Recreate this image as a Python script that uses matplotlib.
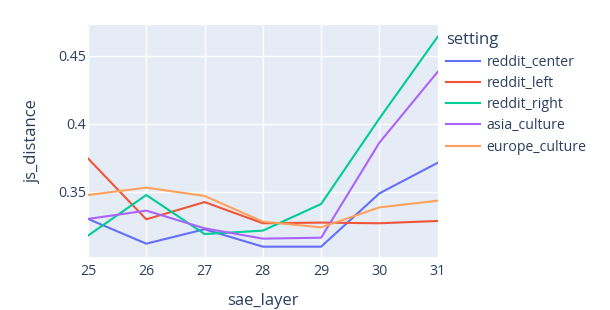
import matplotlib.pyplot as plt

layers = [25, 26, 27, 28, 29, 30, 31]
reddit_center = [0.330, 0.3118, 0.3224, 0.3096, 0.3096, 0.3488, 0.3713]
reddit_left = [0.3745, 0.3297, 0.3424, 0.3268, 0.3273, 0.3268, 0.3285]
reddit_right = [0.3177, 0.3476, 0.3189, 0.3214, 0.3410, 0.4039, 0.4640]
asia_culture = [0.330, 0.3361, 0.3231, 0.3155, 0.3162, 0.3861, 0.4382]
europe_culture = [0.3476, 0.3530, 0.3469, 0.3280, 0.3238, 0.3385, 0.3434]

series = [
    ("reddit_center", reddit_center, "#636efa"),
    ("reddit_left", reddit_left, "#EF553B"),
    ("reddit_right", reddit_right, "#00cc96"),
    ("asia_culture", asia_culture, "#ab63fa"),
    ("europe_culture", europe_culture, "#FFA15A"),
]

txt = "#2a3f5f"
plt.rcParams['font.family'] = ['Open Sans', 'DejaVu Sans']

fig = plt.figure(figsize=(6.1, 3.1), dpi=100)
ax = fig.add_axes([88 / 610, 1 - 257 / 310, (437.7 - 88) / 610, (257 - 25) / 310])
ax.set_facecolor("#E5ECF6")

for name, vals, col in series:
    ax.plot(layers, vals, color=col, lw=1.5, label=name, solid_joinstyle='round')

ax.set_xlim(25, 31)
ax.set_ylim(0.302, 0.4726)
ax.set_xticks(layers)
ax.set_yticks([0.35, 0.4, 0.45])
ax.set_yticklabels(["0.35", "0.4", "0.45"])
ax.grid(True, color="white", lw=1)
ax.set_axisbelow(True)
for s in ax.spines.values():
    s.set_visible(False)
ax.tick_params(length=0, labelsize=10.2, colors=txt)
ax.tick_params(axis="y", pad=1.5)
ax.tick_params(axis="x", pad=5)
ax.set_xlabel("sae_layer", fontsize=12, color=txt, labelpad=10)
ax.set_ylabel("js_distance", fontsize=12, color=txt, labelpad=12)

leg = ax.legend(loc="upper left", bbox_to_anchor=(446 / 610, 1 - 32.5 / 310),
                bbox_transform=fig.transFigure, frameon=False, title="setting",
                fontsize=10.2, title_fontsize=12, handlelength=2.4,
                labelspacing=0.44, handletextpad=0.45, borderaxespad=0, borderpad=0)
leg._legend_box.align = "left"
leg.get_title().set_color(txt)
for t in leg.get_texts():
    t.set_color(txt)

fig.savefig("out.png")
